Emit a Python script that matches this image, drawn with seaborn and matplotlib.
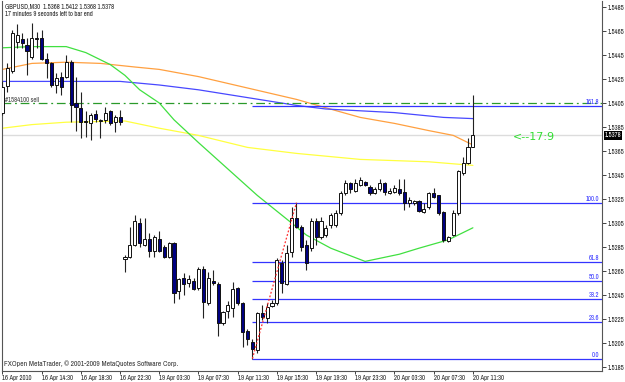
import numpy as np
import pandas as pd
import matplotlib
matplotlib.use("Agg")
import matplotlib.pyplot as plt
import seaborn as sns
from matplotlib import font_manager
from matplotlib.font_manager import FontProperties
from matplotlib.transforms import blended_transform_factory

# ---------------- data ----------------
tick_labels = ["16 Apr 2010", "16 Apr 14:30", "16 Apr 18:30", "16 Apr 22:30",
               "19 Apr 03:30", "19 Apr 07:30", "19 Apr 11:30", "19 Apr 15:30",
               "19 Apr 19:30", "19 Apr 23:30", "20 Apr 03:30", "20 Apr 07:30",
               "20 Apr 11:30"]

opens = [
    1.5397, 1.5419, 1.5432, 1.5456, 1.5458, 1.5453, 1.5443, 1.5459, 1.5459, 1.5442,
    1.5438, 1.5420, 1.5427, 1.5427, 1.5439, 1.5405, 1.5401, 1.5390, 1.5388, 1.5396,
    1.5390, 1.5391, 1.5398, 1.5389, 1.5393,
    1.5275, 1.5277, 1.5287, 1.5305, 1.5287, 1.5292, 1.5282, 1.5292, 1.5285, 1.5277,
    1.5288, 1.5248, 1.5259, 1.5255, 1.5257, 1.5251, 1.5267, 1.5238, 1.5257, 1.5254,
    1.5222, 1.5232, 1.5234, 1.5251, 1.5238, 1.5215, 1.5206, 1.5199, 1.5230, 1.5226,
    1.5236, 1.5238, 1.5272, 1.5254, 1.5281, 1.5309, 1.5302, 1.5287, 1.5284, 1.5307,
    1.5293, 1.5295, 1.5303, 1.5303, 1.5313, 1.5330, 1.5338, 1.5332, 1.5337, 1.5339,
    1.5335, 1.5330, 1.5333, 1.5338, 1.5330, 1.5331, 1.5333, 1.5331, 1.5322, 1.5322,
    1.5323, 1.5314, 1.5318, 1.5330, 1.5328, 1.5314, 1.5290, 1.5295, 1.5313, 1.5347,
    1.5355, 1.5368]
highs = [
    1.5423, 1.5438, 1.5466, 1.5471, 1.5463, 1.5459, 1.5472, 1.5464, 1.5466, 1.5447,
    1.5439, 1.5430, 1.5431, 1.5445, 1.5441, 1.5427, 1.5414, 1.5398, 1.5397, 1.5399,
    1.5392, 1.5402, 1.5399, 1.5395, 1.5399,
    1.5278, 1.5302, 1.5312, 1.5309, 1.5309, 1.5297, 1.5295, 1.5298, 1.5287, 1.5289,
    1.5289, 1.5259, 1.5263, 1.5262, 1.5259, 1.5268, 1.5269, 1.5264, 1.5266, 1.5256,
    1.5232, 1.5240, 1.5256, 1.5252, 1.5239, 1.5217, 1.5208, 1.5231, 1.5237, 1.5238,
    1.5241, 1.5276, 1.5274, 1.5287, 1.5318, 1.5322, 1.5303, 1.5291, 1.5309, 1.5309,
    1.5310, 1.5303, 1.5313, 1.5316, 1.5332, 1.5341, 1.5339, 1.5342, 1.5343, 1.5340,
    1.5337, 1.5335, 1.5342, 1.5339, 1.5334, 1.5337, 1.5342, 1.5342, 1.5327, 1.5324,
    1.5324, 1.5322, 1.5331, 1.5334, 1.5328, 1.5315, 1.5294, 1.5316, 1.5349, 1.5360,
    1.5376, 1.5412]
lows = [
    1.5395, 1.5414, 1.5430, 1.5451, 1.5451, 1.5428, 1.5442, 1.5451, 1.5441, 1.5426,
    1.5418, 1.5413, 1.5412, 1.5426, 1.5389, 1.5382, 1.5376, 1.5377, 1.5374, 1.5389,
    1.5376, 1.5388, 1.5387, 1.5381, 1.5387,
    1.5264, 1.5276, 1.5286, 1.5285, 1.5286, 1.5277, 1.5277, 1.5281, 1.5276, 1.5276,
    1.5238, 1.5242, 1.5245, 1.5252, 1.5249, 1.5249, 1.5226, 1.5237, 1.5253, 1.5211,
    1.5220, 1.5226, 1.5227, 1.5237, 1.5202, 1.5203, 1.5192, 1.5197, 1.5224, 1.5222,
    1.5235, 1.5237, 1.5247, 1.5253, 1.5277, 1.5301, 1.5282, 1.5266, 1.5282, 1.5287,
    1.5292, 1.5293, 1.5301, 1.5302, 1.5312, 1.5328, 1.5330, 1.5331, 1.5336, 1.5336,
    1.5328, 1.5329, 1.5332, 1.5328, 1.5329, 1.5330, 1.5328, 1.5316, 1.5318, 1.5320,
    1.5314, 1.5313, 1.5317, 1.5326, 1.5312, 1.5289, 1.5289, 1.5294, 1.5312, 1.5345,
    1.5354, 1.5368]
closes = [
    1.5418, 1.5434, 1.5463, 1.5462, 1.5455, 1.5448, 1.5459, 1.5458, 1.5442, 1.5438,
    1.5420, 1.5426, 1.5418, 1.5439, 1.5403, 1.5402, 1.5389, 1.5389, 1.5395, 1.5392,
    1.5391, 1.5397, 1.5388, 1.5393, 1.5389,
    1.5277, 1.5287, 1.5307, 1.5288, 1.5292, 1.5282, 1.5293, 1.5282, 1.5277, 1.5288,
    1.5247, 1.5258, 1.5254, 1.5258, 1.5250, 1.5267, 1.5239, 1.5259, 1.5255, 1.5222,
    1.5231, 1.5237, 1.5250, 1.5238, 1.5214, 1.5208, 1.5200, 1.5230, 1.5227, 1.5235,
    1.5238, 1.5274, 1.5255, 1.5280, 1.5309, 1.5302, 1.5285, 1.5272, 1.5307, 1.5293,
    1.5307, 1.5301, 1.5312, 1.5313, 1.5330, 1.5338, 1.5333, 1.5338, 1.5341, 1.5337,
    1.5330, 1.5333, 1.5338, 1.5331, 1.5332, 1.5334, 1.5330, 1.5322, 1.5324, 1.5323,
    1.5315, 1.5317, 1.5330, 1.5327, 1.5313, 1.5291, 1.5293, 1.5313, 1.5348, 1.5355,
    1.5368, 1.5378]

green_idx = [0, 6, 13, 17, 22, 25, 28, 32, 35, 40, 52, 59, 62, 67, 74, 81, 85, 91, 96]
green_ma = [1.5451, 1.5452, 1.5452, 1.5447, 1.5437, 1.5428, 1.5416, 1.5405, 1.5391, 1.5372,
            1.5328, 1.5305, 1.5295, 1.5284, 1.5273, 1.5279, 1.5284, 1.5291, 1.5301]
orange_idx = [0, 6, 13, 20, 27, 32, 40, 60, 66, 73, 80, 87, 92, 96]
orange_ma = [1.5433, 1.5438, 1.5439, 1.5438, 1.5435, 1.5433, 1.5427, 1.5408, 1.5401, 1.5393,
             1.5388, 1.5382, 1.5378, 1.5370]
blue_idx = [0, 24, 32, 40, 60, 66, 80, 90, 96]
blue_ma = [1.5423, 1.5423, 1.5420, 1.5416, 1.5403, 1.5400, 1.5397, 1.5393, 1.5392]
yellow_idx = [0, 6, 13, 25, 32, 40, 50, 60, 73, 87, 96]
yellow_ma = [1.5384, 1.5387, 1.5389, 1.5390, 1.5384, 1.5378, 1.5368, 1.5363, 1.5358, 1.5356, 1.5353]

fib_low, fib_high = 1.5192, 1.5322
fib_low_bar, fib_high_bar = 51, 60
fib_levels = [0.0, 23.6, 38.2, 50.0, 61.8, 100.0, 161.8]
order_price = 1.5405
order_label = "#1584100 sell"
bid_price = 1.5378
y_ticks = [1.5185 + 0.002 * k for k in range(16)]

# ---------------- style ----------------
sns.set_style("white")
plt.rcParams["font.family"] = ["DejaVu Sans"]

# a narrow font for the tiny MetaTrader texts
narrow_path = None
for f in font_manager.fontManager.ttflist:
    fn = f.fname.lower()
    if "narrow" in fn and "bold" not in fn and "italic" not in fn:
        narrow_path = f.fname
        break
if narrow_path:
    small = FontProperties(fname=narrow_path, size=4.8)
    small_b = FontProperties(fname=narrow_path, size=5.4)
else:
    small = FontProperties(family="Liberation Sans", size=4.1)
    small_b = FontProperties(family="Liberation Sans", size=4.6)

W, H = 625, 382
fig = plt.figure(figsize=(W / 100, H / 100), dpi=100)
fig.patch.set_facecolor("white")
ax = fig.add_axes([2 / W, 1 - 371 / H, 600 / W, 370 / H])
ax.set_facecolor("white")

ax.set_xlim(-0.102, 122.35)
ax.set_ylim(1.518167, 1.5490)

# moving averages
for idx, vals, col in [(yellow_idx, yellow_ma, "#ffff40"),
                       (orange_idx, orange_ma, "#ffa040"),
                       (blue_idx, blue_ma, "#4848ff"),
                       (green_idx, green_ma, "#40e040")]:
    sns.lineplot(x=idx, y=vals, ax=ax, color=col, lw=0.9, zorder=2)

# order line & bid line
ax.axhline(order_price, color="#2a9a2a", lw=0.9, ls=(0, (7, 3, 1.5, 3)), zorder=2)
ax.axhline(bid_price, color="#dcdcdc", lw=1.0, zorder=1)

# fibonacci
rng = fib_high - fib_low
tr_fx = blended_transform_factory(ax.transAxes, ax.transData)
for lv in fib_levels:
    p = fib_low + rng * lv / 100.0
    ax.hlines(p, fib_low_bar, 122.35, color="#3434ff", lw=0.9, zorder=2)
    ax.text(0.996, p + 0.00006, f"{lv:.1f}", transform=tr_fx, ha="right", va="bottom",
            fontproperties=small, color="#3434ff")
ax.plot([fib_low_bar, fib_high_bar], [fib_low, fib_high], color="#ff3030", lw=0.9,
        ls=(0, (1.5, 1.5)), zorder=5)

# candles
df = pd.DataFrame(dict(bar=np.arange(len(opens)), open=opens, high=highs,
                       low=lows, close=closes))
up = df["close"] >= df["open"]
ax.vlines(df["bar"], df["low"], df["high"], color="#222222", lw=0.8, zorder=3)
ax.bar(df["bar"][up], (df["close"] - df["open"])[up], bottom=df["open"][up], width=0.62,
       facecolor="white", edgecolor="#111111", lw=0.7, zorder=4)
ax.bar(df["bar"][~up], (df["open"] - df["close"])[~up], bottom=df["close"][~up], width=0.62,
       facecolor="#000080", edgecolor="#111111", lw=0.7, zorder=4)

# axes
ax.set_xticks(range(0, 97, 8))
ax.set_xticklabels(tick_labels, ha="left")
ax.set_yticks(y_ticks)
ax.set_yticklabels([f"{v:.4f}" for v in y_ticks])
ax.yaxis.tick_right()
ax.tick_params(axis="y", direction="out", length=3, width=0.6, pad=1.0,
               colors="#222222", right=True, left=False)
ax.tick_params(axis="x", direction="out", length=2.5, width=0.6, pad=0.2,
               colors="#222222", bottom=True)
for lab in ax.get_xticklabels() + ax.get_yticklabels():
    lab.set_fontproperties(small)
ax.set_xlabel("")
ax.set_ylabel("")
for s in ax.spines.values():
    s.set_color("#555555")
    s.set_linewidth(0.8)
ax.spines["top"].set_visible(False)

# current price label
ax.text(1.0045, bid_price, f"{bid_price:.4f}", transform=tr_fx, ha="left", va="center",
        fontproperties=small, color="white",
        bbox=dict(facecolor="black", edgecolor="none", pad=0.8))

# texts
fig.text(5 / W, 1 - 6 / H, "GBPUSD,M30  1.5368 1.5412 1.5368 1.5378", fontproperties=small,
         color="#222222", va="center", ha="left")
fig.text(5 / W, 1 - 14 / H, "17 minutes 9 seconds left to bar end", fontproperties=small,
         color="#222222", va="center", ha="left")
fig.text(5 / W, 1 - 100 / H, order_label, fontproperties=small, color="#444444",
         va="center", ha="left", zorder=10)
fig.text(4 / W, 1 - 364 / H, "FXOpen MetaTrader, \u00a9 2001-2009 MetaQuotes Software Corp.",
         fontproperties=small_b, color="#333333", va="center", ha="left")
fig.text(513 / W, 1 - 137 / H, "<--17:9", fontsize=8, color="#33dd33", va="center",
         ha="left", family="DejaVu Sans")

fig.savefig("out.png", dpi=100, facecolor="white")
